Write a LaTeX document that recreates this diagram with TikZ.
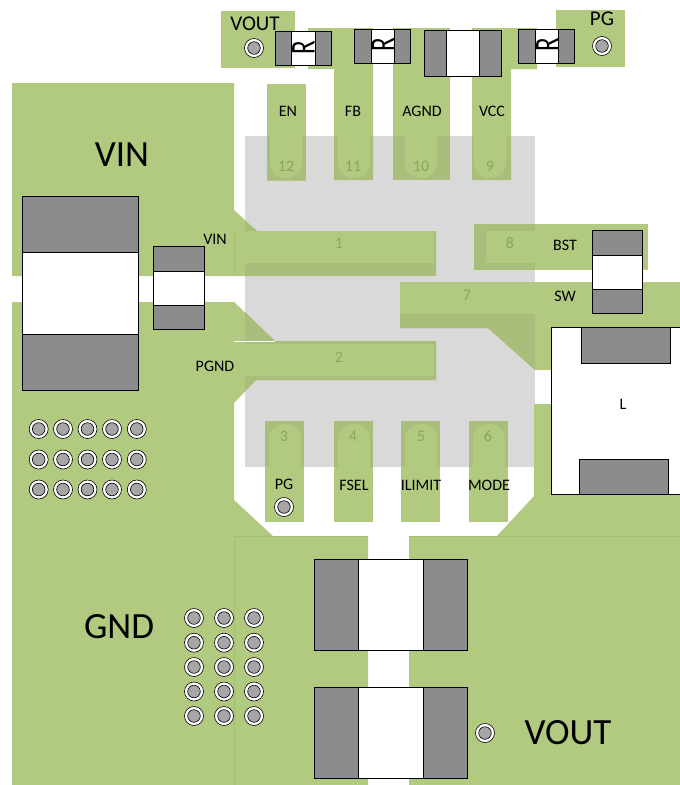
\documentclass[tikz,border=0pt]{standalone}
\usepackage{fontspec}
\setmainfont{Carlito}
\definecolor{traceGreen}{HTML}{B2C980}
\definecolor{overlapGreen}{HTML}{A9BE7A}
\definecolor{edgeGreen}{HTML}{A3BF70}
\definecolor{icGray}{HTML}{D9D9D9}
\definecolor{padGray}{HTML}{8C8C8C}
\definecolor{viaGray}{HTML}{A6A6A6}
\definecolor{pinNum}{HTML}{8DA560}
\tikzset{
  trace/.style={fill=traceGreen},
  overlap/.style={fill=overlapGreen},
  capbody/.style={draw=black,fill=white,line width=.7pt},
  cappad/.style={draw=black,fill=padGray,line width=.7pt},
  via/.pic={
    \draw[fill=white,line width=.6pt] (0,0) circle (9.5pt);
    \draw[fill=viaGray,line width=.6pt] (0,0) circle (6.3pt);
  },
  pinnum/.style={text=pinNum,font=\fontsize{16}{16}\selectfont},
  siglabel/.style={font=\fontsize{16}{16}\selectfont},
  netlabel/.style={font=\fontsize{21}{21}\selectfont},
  biglabel/.style={font=\fontsize{37}{37}\selectfont},
  rlabel/.style={rotate=90,xscale=.72,font=\fontsize{35}{35}\selectfont},
}
\begin{document}
\begin{tikzpicture}[x=1pt,y=-1pt]
  \useasboundingbox (0,0) rectangle (680,785);
  % package outline
  \fill[icGray] (245,136) rectangle (535,467);
  % power planes
  \fill[trace] (12,83) -- (234,83) -- (234,210) -- (257,231) -- (436,231) -- (436,276) -- (12,276) -- cycle;
  \fill[trace] (12,302) -- (234,302) -- (275,341) -- (436,341) -- (436,380) -- (256,380) -- (234,403)
    -- (234,500) -- (273,536) -- (368,536) -- (368,785) -- (12,785) -- cycle;
  \fill[trace] (400,282) -- (680,282) -- (680,327) -- (551,327) -- (551,370) -- (535,370) -- (488,328) -- (400,328) -- cycle;
  \fill[trace] (534,404) -- (680,404) -- (680,785) -- (409,785) -- (409,536) -- (497,536) -- (534,496) -- cycle;
  \fill[trace] (474,224) rectangle (648,270);
  % top nets
  \fill[trace] (221,11) rectangle (295,68);
  \fill[trace] (556,10) rectangle (625,67);
  \fill[trace] (308,28) -- (373,28) -- (373,180) -- (334,180) -- (334,69) -- (308,69) -- cycle;
  \fill[trace] (393,28) rectangle (450,180);
  \fill[trace] (472,28) -- (537,28) -- (537,69) -- (511,69) -- (511,180) -- (472,180) -- cycle;
  \fill[trace] (267,84) rectangle (306,181);
  % bottom pins
  \foreach \x in {265,334,401,469} {
    \fill[trace] (\x,421) rectangle (\x+39,522);
    \fill[overlap] (\x,421) rectangle (\x+39,467);
    \fill[trace,rounded corners=15pt] (\x+4,467) -- (\x+4,424) -- (\x+36,424) [sharp corners] -- (\x+36,467) -- cycle;
  }
  % top pins, over the package
  \foreach \x/\w/\l/\r in {267/39/270/302, 334/39/338/370, 393/57/405/437, 472/39/474/506} {
    \fill[overlap] (\x,136) rectangle (\x+\w,180);
    \fill[trace,rounded corners=15pt] (\l,136) -- (\l,178) -- (\r,178) [sharp corners] -- (\r,136) -- cycle;
  }
  % pins 1, 2, 7, 8 over the package
  \fill[overlap] (245,221) -- (257,231) -- (245,231) -- cycle;
  \fill[overlap] (245,263) rectangle (436,276);
  \fill[overlap] (434,231) rectangle (436,276);
  \fill[overlap] (245,312) -- (275,341) -- (436,341) -- (436,380) -- (256,380) -- (245,391) -- cycle;
  \fill[trace] (245,344) rectangle (434,376);
  \fill[overlap] (474,224) rectangle (535,270);
  \fill[trace] (486,231) rectangle (535,263);
  \fill[overlap] (400,314) -- (535,314) -- (535,370) -- (488,328) -- (400,328) -- cycle;
  % faint edges of the planes
  \draw[edgeGreen,line width=.5pt] (234,231) -- (234,276);
  \draw[edgeGreen,line width=.5pt] (234,785) -- (234,536) -- (368,536);
  \draw[edgeGreen,line width=.5pt] (409,536) -- (680,536);
  \draw[white,line width=.5pt] (234,341) -- (275,341);
  % parts with pads left and right
  \foreach \xa/\xb/\xc/\xd/\ya/\yb in {275/291/315/331/31/65, 354/371/394/410/29/63, 424/446/479/501/30/76,
      518/535/558/574/29/63, 314/358/423/467/559/650, 314/358/423/467/687/778} {
    \draw[capbody] (\xa,\ya) rectangle (\xd,\yb);
    \draw[cappad] (\xa,\ya) rectangle (\xb,\yb);
    \draw[cappad] (\xc,\ya) rectangle (\xd,\yb);
  }
  % parts with pads above and below
  \foreach \xa/\xb/\ya/\yb/\yc/\yd in {22/138/196/252/334/390, 153/204/246/271/305/329, 592/642/230/255/289/313} {
    \draw[capbody] (\xa,\ya) rectangle (\xb,\yd);
    \draw[cappad] (\xa,\ya) rectangle (\xb,\yb);
    \draw[cappad] (\xa,\yc) rectangle (\xb,\yd);
  }
  % inductor
  \draw[capbody] (551,327) rectangle (690,494);
  \draw[cappad] (581,327) rectangle (670,363);
  \draw[cappad] (579,459) rectangle (668,494);
  % vias
  \foreach \x in {38.7,63,87.5,112,136.8}
    \foreach \y in {429,459.5,489.5}
      \pic at (\x,\y) {via};
  \foreach \x in {194,224,254}
    \foreach \y in {618,642.7,667,691.5,716}
      \pic at (\x,\y) {via};
  \pic at (254,48) {via};
  \pic at (602,46) {via};
  \pic at (284,507) {via};
  \pic at (485,733) {via};
  % pin numbers
  \foreach \n/\x/\y in {1/339/243, 2/339/357, 3/284/436, 4/353/436, 5/421/436, 6/488/436,
      7/467/295, 8/510/243, 9/490/166, 10/421/166, 11/353/166, 12/286/166}
    \node[pinnum] (num\n) at (\x,\y) {\n};
  % signal names
  \foreach \t/\x/\y in {EN/288/111, FB/353/111, AGND/422/111, VCC/492/111, VIN/215/239, PGND/215/366,
      BST/565/245, SW/565/296, PG/284/484, FSEL/354/485, ILIMIT/421/485, MODE/489/485, L/623/404}
    \node[siglabel] (lbl\t) at (\x,\y) {\t};
  \node[netlabel] (voutTop) at (255,24) {VOUT};
  \node[netlabel] (pgTop) at (602,19) {PG};
  \node[biglabel] (vin) at (122,155) {VIN};
  \node[biglabel] (gnd) at (119,627) {GND};
  \node[biglabel] (voutBig) at (568,733) {VOUT};
  \foreach \n/\x/\y in {a/303.5/48, b/383/45, c/547.5/45}
    \node[rlabel] (res\n) at (\x,\y) {R};
\end{tikzpicture}
\end{document}
